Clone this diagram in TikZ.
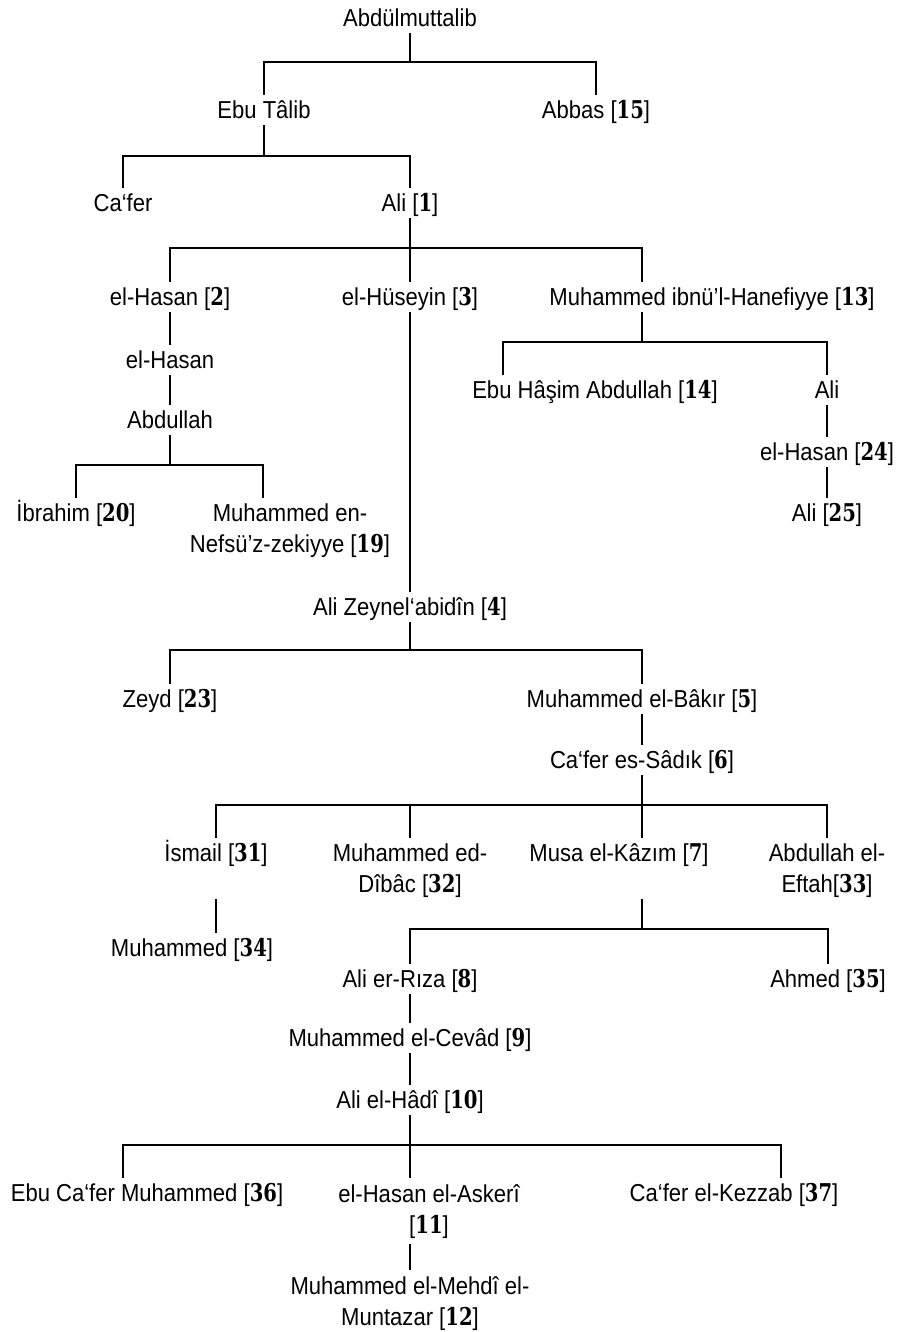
\documentclass[tikz,border=0pt]{standalone}
\usepackage{fontspec}
\setmainfont{Liberation Sans}[FakeStretch=0.9]
\newfontfamily\numfont{DejaVu Serif}[FakeStretch=0.8]
\newcommand{\imam}[1]{[{\numfont\bfseries #1}]}
\tikzset{
  person/.style={anchor=north,inner xsep=0pt,inner ysep=6pt,text height=17.5pt,text depth=0pt,font=\fontsize{24.5}{31}\selectfont},
  twoline/.style={anchor=north,inner xsep=0pt,inner ysep=6pt,align=center,font=\fontsize{24.5}{31}\selectfont},
  link/.style={line width=2.3pt}
}

\begin{document}
\begin{tikzpicture}[x=1pt,y=-1pt]
        \useasboundingbox (0,0) rectangle (900,1332);
        \node[person] (abdulm) at (410,3) {Abdülmuttalib};
        \node[person] (ebutalib) at (264,95) {Ebu Tâlib};
        \node[person] (abbas) at (596,95) {Abbas \imam{15}};
        \node[person] (cafer) at (123,188) {Ca‘fer};
        \node[person] (ali) at (410,188) {Ali \imam{1}};
        \node[person] (hasanA) at (170,282) {el-Hasan \imam{2}};
        \node[person] (huseyin) at (410,282) {el-Hüseyin \imam{3}};
        \node[person] (hanefiyye) at (712,282) {Muhammed ibnü’l-Hanefiyye \imam{13}};
        \node[person] (hasanB) at (170,345) {el-Hasan};
        \node[person] (ebuhasim) at (595,375) {Ebu Hâşim Abdullah \imam{14}};
        \node[person] (aliB) at (827,375) {Ali};
        \node[person] (abdullah) at (170,405) {Abdullah};
        \node[person] (hasanC) at (827,437) {el-Hasan \imam{24}};
        \node[person] (ibrahim) at (76,498) {İbrahim \imam{20}};
        \node[twoline] (nefs) at (290,498) {Muhammed en-\\Nefsü’z-zekiyye \imam{19}};
        \node[person] (aliC) at (827,498) {Ali \imam{25}};
        \node[person] (zeynel) at (410,592) {Ali Zeynel‘abidîn \imam{4}};
        \node[person] (zeyd) at (170,684) {Zeyd \imam{23}};
        \node[person] (bakir) at (642,684) {Muhammed el-Bâkır \imam{5}};
        \node[person] (sadik) at (642,745) {Ca‘fer es-Sâdık \imam{6}};
        \node[person,text depth=31pt] (ismail) at (216,838) {İsmail \imam{31}};
        \node[twoline] (dibac) at (410,838) {Muhammed ed-\\Dîbâc \imam{32}};
        \node[person,text depth=31pt] (musa) at (619,838) {Musa el-Kâzım \imam{7}};
        \node[twoline] (eftah) at (827,838) {Abdullah el-\\Eftah\imam{33}};
        \node[person] (muhammedB) at (192,933) {Muhammed \imam{34}};
        \node[person] (riza) at (410,964) {Ali er-Rıza \imam{8}};
        \node[person] (ahmed) at (828,964) {Ahmed \imam{35}};
        \node[person] (cevad) at (410,1023) {Muhammed el-Cevâd \imam{9}};
        \node[person] (hadi) at (410,1085) {Ali el-Hâdî \imam{10}};
        \node[person] (ebucafer) at (147,1178) {Ebu Ca‘fer Muhammed \imam{36}};
        \node[twoline] (askeri) at (429,1178) {el-Hasan el-Askerî\\\imam{11}};
        \node[person] (kezzab) at (734,1178) {Ca‘fer el-Kezzab \imam{37}};
        \node[twoline] (mehdi) at (410,1270) {Muhammed el-Mehdî el-\\Muntazar \imam{12}};

        \draw[link] (abdulm.south) -- (abdulm.south |- 0,62);
        \draw[link] (ebutalib.north) |- (abbas.north |- 0,62) -- (abbas.north);
        \draw[link] (ebutalib.south) -- (ebutalib.south |- 0,156);
        \draw[link] (cafer.north) |- (ali.north |- 0,156) -- (ali.north);
        \draw[link] (ali.south) -- (ali.south |- 0,248);
        \draw[link] (hasanA.north) |- ([xshift=-70pt]hanefiyye.north |- 0,248) -- ([xshift=-70pt]hanefiyye.north);
        \draw[link] (huseyin.north) -- (huseyin.north |- 0,248);
        \draw[link] (hasanA.south) -- (hasanB.north);
        \draw[link] (hasanB.south) -- (abdullah.north);
        \draw[link] (abdullah.south) -- (abdullah.south |- 0,465);
        \draw[link] (ibrahim.north) |- ([xshift=-27pt]nefs.north |- 0,465) -- ([xshift=-27pt]nefs.north);
        \draw[link] ([xshift=-70pt]hanefiyye.south) -- ([xshift=-70pt]hanefiyye.south |- 0,342);
        \draw[link] ([xshift=-92pt]ebuhasim.north) |- (aliB.north |- 0,342) -- (aliB.north);
        \draw[link] (aliB.south) -- (hasanC.north);
        \draw[link] (hasanC.south) -- (aliC.north);
        \draw[link] (huseyin.south) -- (zeynel.north);
        \draw[link] (zeynel.south) -- (zeynel.south |- 0,650);
        \draw[link] (zeyd.north) |- (bakir.north |- 0,650) -- (bakir.north);
        \draw[link] (bakir.south) -- (sadik.north);
        \draw[link] (sadik.south) -- (sadik.south |- 0,805);
        \draw[link] (ismail.north) |- (eftah.north |- 0,805) -- (eftah.north);
        \draw[link] (dibac.north) -- (dibac.north |- 0,805);
        \draw[link] ([xshift=23pt]musa.north) -- ([xshift=23pt]musa.north |- 0,805);
        \draw[link] (ismail.south) -- ([xshift=24pt]muhammedB.north);
        \draw[link] ([xshift=23pt]musa.south) -- ([xshift=23pt]musa.south |- 0,929);
        \draw[link] (riza.north) |- (ahmed.north |- 0,929) -- (ahmed.north);
        \draw[link] (riza.south) -- (cevad.north);
        \draw[link] (cevad.south) -- (hadi.north);
        \draw[link] (hadi.south) -- (hadi.south |- 0,1145);
        \draw[link] ([xshift=-24pt]ebucafer.north) |- ([xshift=47pt]kezzab.north |- 0,1145) -- ([xshift=47pt]kezzab.north);
        \draw[link] ([xshift=-19pt]askeri.north) -- ([xshift=-19pt]askeri.north |- 0,1145);
        \draw[link] ([xshift=-19pt]askeri.south) -- (mehdi.north);
\end{tikzpicture}
\end{document}
